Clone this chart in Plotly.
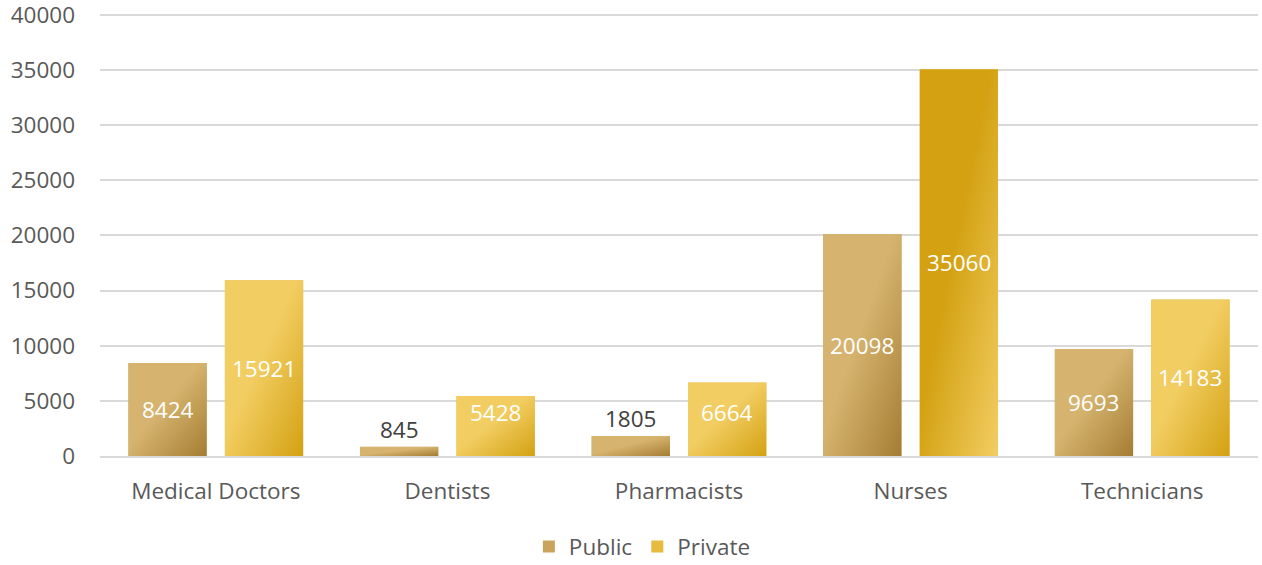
import base64
import plotly.graph_objects as go

# Health workforce by sector
categories = ["Medical Doctors", "Dentists", "Pharmacists", "Nurses", "Technicians"]
public = [8424, 845, 1805, 20098, 9693]
private = [15921, 5428, 6664, 35060, 14183]

BARGAP = 0.167
BARGROUPGAP = 0.187
FONT = "Open Sans"
SIZE = 22.5


def gradient_uri(c_start, c_end, reverse=False):
    """Diagonal gradient as an SVG data URI used to shade each bar."""
    a, b = (c_end, c_start) if reverse else (c_start, c_end)
    svg = (
        '<svg xmlns="http://www.w3.org/2000/svg" width="100" height="100" '
        'preserveAspectRatio="none" viewBox="0 0 100 100">'
        '<defs><linearGradient id="g" x1="0" y1="0" x2="1" y2="1">'
        f'<stop offset="0" stop-color="{a}"/>'
        f'<stop offset="0.45" stop-color="{a}"/>'
        f'<stop offset="1" stop-color="{b}"/>'
        '</linearGradient></defs>'
        '<rect width="100" height="100" fill="url(#g)"/></svg>'
    )
    return "data:image/svg+xml;base64," + base64.b64encode(svg.encode()).decode()


PUB_LIGHT, PUB_DARK = "#d6b46f", "#a47d33"
PRI_LIGHT, PRI_DARK = "#f2cd62", "#d3a112"

fig = go.Figure()
fig.add_trace(go.Bar(name="Public", x=categories, y=public,
                     marker=dict(color="#c9a45c", line=dict(width=0))))
fig.add_trace(go.Bar(name="Private", x=categories, y=private,
                     marker=dict(color="#e6bb3e", line=dict(width=0))))

# Gradient overlays and value labels, placed from the same data
slot = (1 - BARGAP) / 2
width = slot * (1 - BARGROUPGAP)
images, annotations = [], []
for series_idx, (values, light, dark) in enumerate(
        [(public, PUB_LIGHT, PUB_DARK), (private, PRI_LIGHT, PRI_DARK)]):
    for i, v in enumerate(values):
        centre = i + (series_idx - 0.5) * slot
        reverse = (series_idx == 1 and v == max(values))
        images.append(dict(
            source=gradient_uri(light, dark, reverse), xref="x", yref="y",
            x=centre - width / 2, y=v, sizex=width, sizey=v,
            xanchor="left", yanchor="top", sizing="stretch", layer="above"))
        if v < 3000:
            annotations.append(dict(
                x=centre, y=v, xref="x", yref="y", text=str(v), showarrow=False,
                yanchor="bottom", yshift=0,
                font=dict(family=FONT, size=SIZE, color="#404040")))
        else:
            annotations.append(dict(
                x=centre, y=max(v / 2, 3900), xref="x", yref="y", text=str(v),
                showarrow=False, yanchor="middle",
                font=dict(family=FONT, size=SIZE, color="#ffffff")))

fig.update_layout(
    width=1262, height=565,
    margin=dict(l=100, r=4, t=12, b=109),
    barmode="group", bargap=BARGAP, bargroupgap=BARGROUPGAP,
    plot_bgcolor="white", paper_bgcolor="white",
    font=dict(family=FONT, size=SIZE, color="#595959"),
    images=images, annotations=annotations,
    showlegend=True,
    legend=dict(orientation="h", xref="container", yref="container",
                x=0.509, y=0.032, xanchor="center", yanchor="middle",
                font=dict(family=FONT, size=SIZE, color="#595959"),
                itemwidth=30, traceorder="normal"),
)
fig.update_xaxes(showgrid=False, showline=True, linecolor="#d9d9d9", linewidth=2,
                 ticks="", ticklabelstandoff=14, automargin=False,
                 tickfont=dict(family=FONT, size=SIZE, color="#595959"))
fig.update_yaxes(range=[0, 40250], tick0=0, dtick=5000, showgrid=True,
                 gridcolor="#d9d9d9", gridwidth=1.5, zeroline=False,
                 showline=False, ticks="", ticklabelstandoff=24, tickformat="d",
                 ticklabeloverflow="allow", automargin=False,
                 tickfont=dict(family=FONT, size=SIZE, color="#595959"))

fig.write_html("out.html")
